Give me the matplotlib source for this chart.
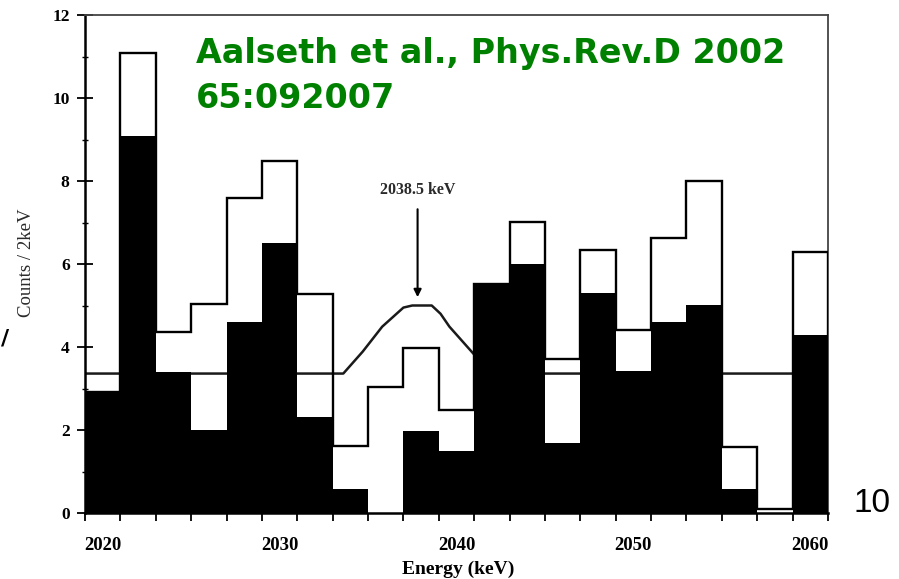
#!/usr/bin/env python3
"""
Energy spectrum near 2038.5 keV (Aalseth et al., Phys.Rev.D 2002).
"""
import matplotlib
matplotlib.use('Agg')
import matplotlib.pyplot as plt
from matplotlib.ticker import FixedLocator

# bin centres (keV), 2 keV wide bins
bin_centers = [2020, 2022, 2024, 2026, 2028, 2030, 2032, 2034, 2036, 2038, 2040,
               2042, 2044, 2046, 2048, 2050, 2052, 2054, 2056, 2058, 2060]
# filled histogram (black)
black_counts = [2.92, 9.09, 3.40, 2.00, 4.61, 6.50, 2.32, 0.59, 0.00, 1.98, 1.49,
                5.51, 6.00, 1.69, 5.29, 3.43, 4.61, 5.01, 0.57, 0.00, 4.29]
# open histogram (outline)
open_counts = [2.92, 11.08, 4.37, 5.04, 7.60, 8.47, 5.28, 1.61, 3.03, 3.97, 2.48,
               5.51, 7.02, 3.70, 6.34, 4.41, 6.63, 8.00, 1.60, 0.10, 6.30]

# background + peak curve
curve_energy = [2019.0, 2033.6, 2034.7, 2035.8, 2037.0, 2037.5, 2038.6, 2039.1,
                2039.6, 2041.1, 2042.3, 2061.0]
curve_counts = [3.36, 3.36, 3.89, 4.49, 4.95, 5.00, 5.00, 4.80,
                4.49, 3.77, 3.36, 3.36]

x_labels = [2020, 2030, 2040, 2050, 2060]
y_major = [0, 2, 4, 6, 8, 10, 12]
y_minor = [1, 3, 5, 7, 9, 11]

peak_energy = 2037.8
peak_label = '2038.5 keV'

SERIF = 'Liberation Serif'


def main():
    fig = plt.figure(figsize=(8.99, 5.79), dpi=100)
    ax = fig.add_axes([85 / 899, 1 - 513 / 579, 743 / 899, 498 / 579])

    width = 2.0
    edges = [c - width / 2 for c in bin_centers] + [bin_centers[-1] + width / 2]

    ax.plot(curve_energy, curve_counts, color='#1a1a1a', lw=1.8, zorder=2)
    ax.bar(bin_centers, black_counts, width=width, color='black', lw=0, zorder=3)
    ax.stairs(open_counts, edges, color='black', lw=1.7, zorder=4)

    ax.annotate(peak_label, xy=(peak_energy, 5.2), xytext=(peak_energy, 7.78),
                ha='center', va='center', fontsize=11.5, fontweight='bold',
                family=SERIF, color='#2a2a2a',
                arrowprops=dict(arrowstyle='-|>', color='black', lw=1.5,
                                mutation_scale=11, shrinkA=6, shrinkB=0))

    ax.set_xlim(edges[0], edges[-1])
    ax.set_ylim(0, 12)

    ax.set_xticks(x_labels)
    ax.set_xticklabels([str(v) for v in x_labels], fontsize=13.5,
                       fontweight='bold', family=SERIF)
    ax.xaxis.set_minor_locator(FixedLocator(edges))
    ax.tick_params(axis='x', which='major', length=0, pad=17)
    ax.tick_params(axis='x', which='minor', length=6, width=1.3,
                   direction='out')

    ax.set_yticks(y_major)
    ax.set_yticklabels([str(v) for v in y_major], fontsize=12.5,
                       fontweight='bold', family=SERIF)
    ax.yaxis.set_minor_locator(FixedLocator(y_minor))
    ax.tick_params(axis='y', which='major', length=12, width=1.3,
                   direction='inout', pad=5)
    ax.tick_params(axis='y', which='minor', length=5, width=1.0,
                   direction='inout')

    for side in ['left', 'bottom']:
        ax.spines[side].set_linewidth(1.8)
    for side in ['top', 'right']:
        ax.spines[side].set_linewidth(1.3)
        ax.spines[side].set_color('#444444')

    fig.text(27 / 899, 1 - 263 / 579, 'Counts / 2keV', rotation=90,
             ha='center', va='center', fontsize=13.5, family=SERIF,
             color='#2a2a2a')
    fig.text(458 / 899, 1 - 578 / 579, 'Energy (keV)', ha='center',
             va='bottom', fontsize=14, fontweight='bold', family=SERIF)

    green = '#008000'
    fig.text(196 / 899, 1 - 63 / 579, 'Aalseth et al., Phys.Rev.D 2002',
             ha='left', va='baseline', fontsize=24, fontweight='bold',
             family='DejaVu Sans', color=green)
    fig.text(196 / 899, 1 - 108 / 579, '65:092007',
             ha='left', va='baseline', fontsize=24, fontweight='bold',
             family='DejaVu Sans', color=green)

    fig.text(853 / 899, 1 - 512 / 579, '10', ha='left', va='baseline',
             fontsize=24, family='Liberation Sans')
    fig.text(1 / 899, 1 - 345 / 579, '/', ha='left', va='baseline',
             fontsize=16, fontweight='bold', family='DejaVu Sans')

    fig.savefig('out.png', dpi=100)
    plt.close(fig)


if __name__ == '__main__':
    main()
